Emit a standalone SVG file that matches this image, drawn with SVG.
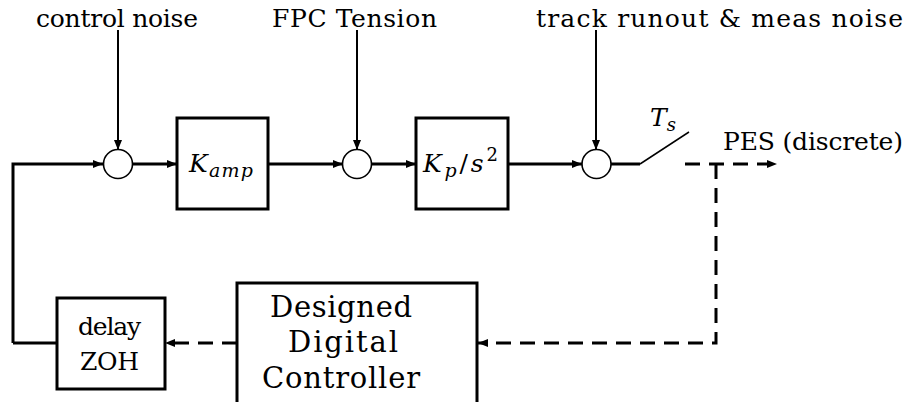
<svg xmlns="http://www.w3.org/2000/svg" width="907" height="402" viewBox="0 0 907 402">
<style>
text{font-family:"DejaVu Serif","Noto Serif",serif;font-size:25px;fill:#000}
.m{font-style:italic}
.big{font-size:29px}
.sm{font-size:25px}
.box{fill:#fff;stroke:#000;stroke-width:3}
.sum{fill:#fff;stroke:#000;stroke-width:1.6}
.w{fill:none;stroke:#000;stroke-width:3}
.t{fill:none;stroke:#000;stroke-width:2}
.d{fill:none;stroke:#000;stroke-width:3;stroke-dasharray:15 9}
</style>
<defs>
<marker id="a" viewBox="0 0 10 8" refX="10" refY="4" markerWidth="10" markerHeight="8" markerUnits="userSpaceOnUse" orient="auto"><path d="M0,0 L10,4 L0,8 Z" fill="#000"/></marker>
</defs>
<g id="labels">
<text x="36" y="27" textLength="162">control noise</text>
<text x="272" y="27" textLength="165">FPC Tension</text>
<text x="536" y="27" textLength="367">track runout &amp; meas noise</text>
<text x="723" y="150" textLength="180">PES (discrete)</text>
<text x="650" y="126" class="m" font-size="26">T<tspan font-size="18" dy="5">s</tspan></text>
</g>
<g id="connectors">
<path class="w" d="M13,343 V164 H103" marker-end="url(#a)"/>
<path class="w" d="M13,343 H57"/>
<path class="w" d="M133,164 H177" marker-end="url(#a)"/>
<path class="w" d="M268,164 H343" marker-end="url(#a)"/>
<path class="w" d="M371,164 H416" marker-end="url(#a)"/>
<path class="w" d="M508,164 H582" marker-end="url(#a)"/>
<path class="w" d="M611,164 H640"/>
<path fill="none" stroke="#000" stroke-width="1.5" d="M640,164 L689,132"/>
<path class="t" d="M118,30 V150" marker-end="url(#a)"/>
<path class="t" d="M357,30 V150" marker-end="url(#a)"/>
<path class="t" d="M596,30 V150" marker-end="url(#a)"/>
<path class="d" d="M685,164 H777" marker-end="url(#a)"/>
<path class="d" d="M716,164 V343 H478" marker-end="url(#a)"/>
<path class="d" d="M237,343 H165" marker-end="url(#a)"/>
</g>
<g id="sum1"><circle class="sum" cx="118" cy="164" r="14.5"/></g>
<g id="sum2"><circle class="sum" cx="357" cy="164" r="14.5"/></g>
<g id="sum3"><circle class="sum" cx="596.5" cy="164" r="14.5"/></g>
<g id="kamp">
<rect class="box" x="177" y="118" width="91" height="91"/>
<text x="189" y="172" class="m" font-size="26" textLength="64">K<tspan font-size="19" dy="5">amp</tspan></text>
</g>
<g id="kp">
<rect class="box" x="416" y="118" width="92" height="91"/>
<text x="423" y="172" class="m" font-size="26" textLength="75">K<tspan font-size="19" dy="5">p</tspan><tspan dy="-5" font-style="normal">/</tspan>s<tspan font-size="18" dy="-11" font-style="normal">2</tspan></text>
</g>
<g id="zoh">
<rect class="box" x="57" y="298" width="108" height="91"/>
<text x="78" y="335" class="sm" textLength="63">delay</text>
<text x="80" y="370" class="sm" textLength="59">ZOH</text>
</g>
<g id="controller">
<path class="box" d="M237,404 V283 H477 V404"/>
<text x="270" y="317" class="big" textLength="142">Designed</text>
<text x="288" y="352" class="big" textLength="110">Digital</text>
<text x="262" y="388" class="big" textLength="158">Controller</text>
</g>
</svg>
